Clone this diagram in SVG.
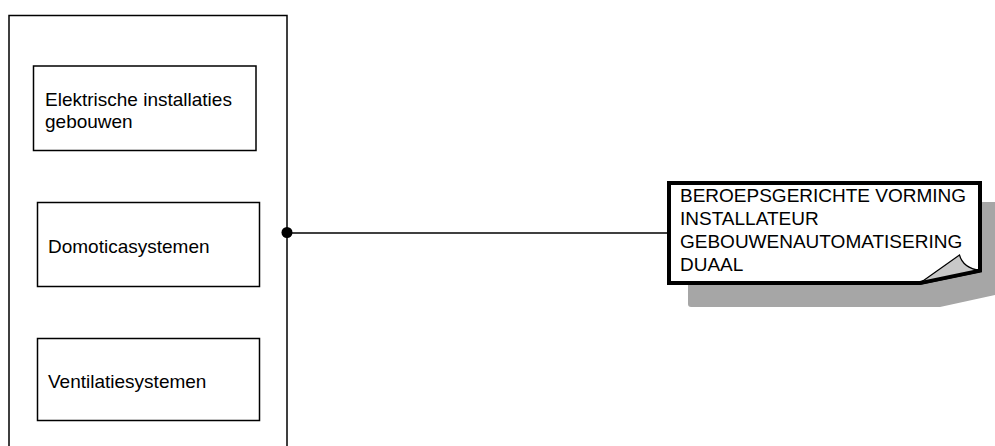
<svg xmlns="http://www.w3.org/2000/svg" width="995" height="446" viewBox="0 0 995 446">
<style>
.box{fill:#fff;stroke:#000;stroke-width:1.5}
.t{font-family:"Liberation Sans",Arial,sans-serif;font-size:19px;fill:#000}
.wire{stroke:#000;stroke-width:1.5;fill:none}
</style>
<rect width="995" height="446" fill="#fff"/>
<g id="container">
<rect class="box" x="9" y="15.5" width="278" height="440"/>
</g>
<g id="node-elektrische">
<rect class="box" x="33.5" y="66" width="222.5" height="84.5"/>
<text class="t" x="45" y="106">Elektrische installaties</text>
<text class="t" x="45" y="127.5">gebouwen</text>
</g>
<g id="node-domotica">
<rect class="box" x="37.5" y="202.5" width="222" height="84"/>
<text class="t" x="48" y="252.5">Domoticasystemen</text>
</g>
<g id="node-ventilatie">
<rect class="box" x="37.5" y="338.5" width="222" height="82"/>
<text class="t" x="48" y="388">Ventilatiesystemen</text>
</g>
<g id="connectors">
<line class="wire" x1="287" y1="233" x2="669" y2="233"/>
<circle cx="287" cy="232.5" r="5.5" fill="#000"/>
</g>
<g id="note">
<path d="M688,202 H995 V295 L940,307 H691 Q688,307 688,304 Z" fill="#a6a6a6"/>
<path d="M669,183 H980 V270.5 L920,283 H669 Z" fill="#fff" stroke="#000" stroke-width="4" stroke-linejoin="miter"/>
<path d="M920,283 L959.5,255 Q963,268 980,270.5 Z" fill="#c8c8c8" stroke="#000" stroke-width="1.2"/>
<path d="M920,283 L980,270.5" stroke="#000" stroke-width="3.5" fill="none"/>
<text class="t" x="680" y="201.5">BEROEPSGERICHTE VORMING</text>
<text class="t" x="680" y="224.8">INSTALLATEUR</text>
<text class="t" x="680" y="248.1">GEBOUWENAUTOMATISERING</text>
<text class="t" x="680" y="271.4">DUAAL</text>
</g>
</svg>
